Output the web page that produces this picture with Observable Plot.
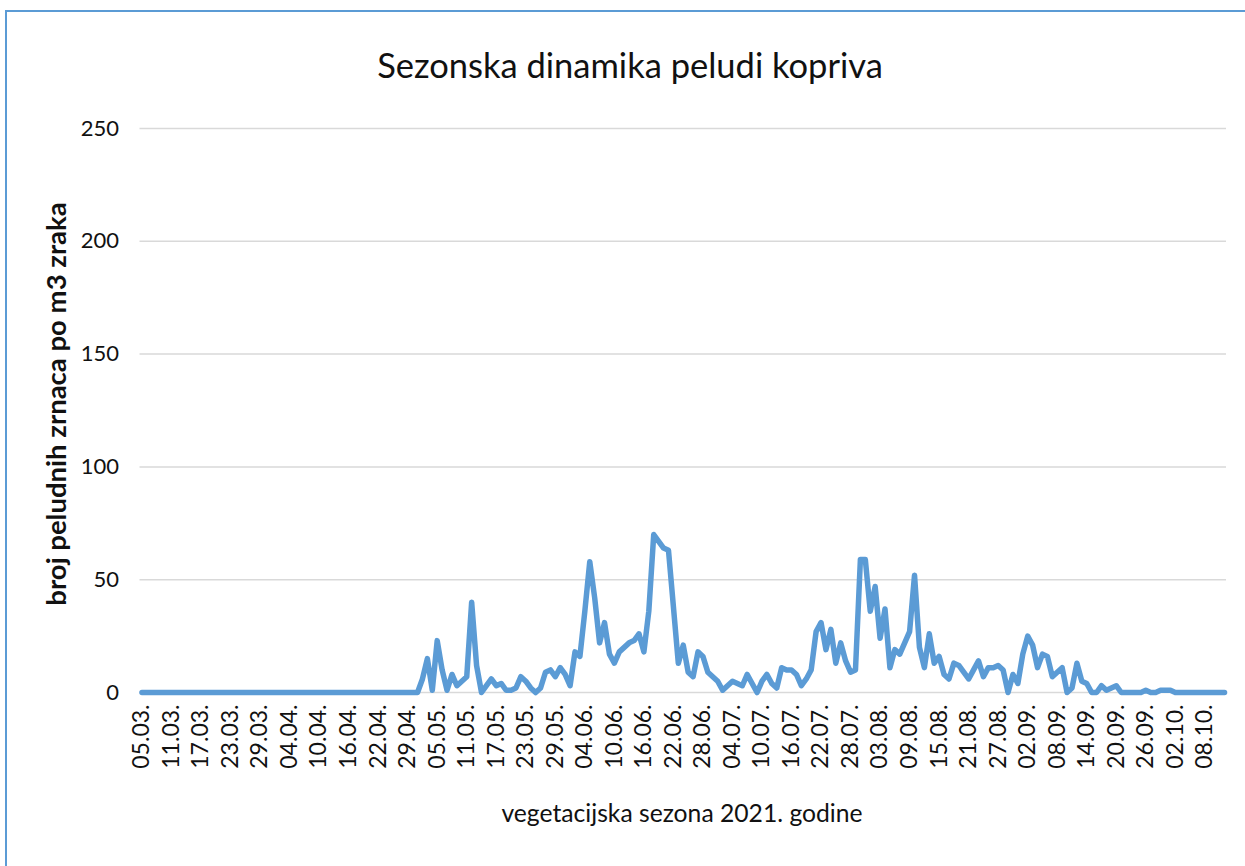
<!DOCTYPE html>
<html><head><meta charset="utf-8">
<script src="https://cdn.jsdelivr.net/npm/d3@7"></script>
<script src="https://cdn.jsdelivr.net/npm/@observablehq/plot@0.6"></script>
<style>
html,body{margin:0;padding:0;background:#fff;overflow:hidden;width:1245px;height:866px;}
#wrap{position:relative;width:1245px;height:866px;overflow:hidden;}
#frame{position:absolute;left:5px;top:10px;width:1300px;height:900px;border:2px solid #5b9bd5;box-sizing:border-box;}
#chart{position:absolute;left:0;top:0;}
.t{position:absolute;font-family:Lato,sans-serif;white-space:nowrap;line-height:1;color:#111;}
#title{left:0;width:1260px;top:48px;text-align:center;font-size:34.5px;}
#xtitle{left:0;width:1364px;top:801px;text-align:center;font-size:24.7px;}
#ytitle{left:55px;top:404px;width:600px;height:27px;text-align:center;font-size:27.5px;font-weight:bold;transform:translate(-50%,-50%) rotate(-90deg);}
</style></head>
<body><div id="wrap"><div id="frame"></div><div id="chart"></div>
<div class="t" id="title">Sezonska dinamika peludi kopriva</div>
<div class="t" id="xtitle">vegetacijska sezona 2021. godine</div>
<div class="t" id="ytitle">broj peludnih zrnaca po m3 zraka</div>
</div>
<script>
const tickLabels = ["05.03.","11.03.","17.03.","23.03.","29.03.","04.04.","10.04.","16.04.","22.04.","29.04.","05.05.","11.05.","17.05.","23.05.","29.05.","04.06.","10.06.","16.06.","22.06.","28.06.","04.07.","10.07.","16.07.","22.07.","28.07.","03.08.","09.08.","15.08.","21.08.","27.08.","02.09.","08.09.","14.09.","20.09.","26.09.","02.10.","08.10."];
const yTicks = [0, 50, 100, 150, 200, 250];
const pollen = [
0,0,0,0,0,0,0,0,0,0, 0,0,0,0,0,0,0,0,0,0, 0,0,0,0,0,0,0,0,0,0,
0,0,0,0,0,0,0,0,0,0, 0,0,0,0,0,0,0,0,0,0, 0,0,0,0,0,0,0,
6,15,1,23,10,1,8,3,5,7,40,12,0,3,6,3,4,1,1,2,7,5,2,0,2,
9,10,7,11,8,3,18,16,36,58,42,22,31,17,13,18,20,22,23,26,18,36,70,67,64,63,38,13,21,9,
7,18,16,9,7,5,1,3,5,4,3,8,4,0,5,8,4,2,11,10,10,8,3,6,10,27,31,19,28,13,
22,14,9,10,59,59,36,47,24,37,11,19,17,22,27,52,20,11,26,13,16,8,6,13,12,9,6,10,14,7,
11,11,12,10,0,8,4,17,25,21,11,17,16,7,9,11,0,2,13,5,4,0,0,3,1,2,3,0,0,0,
0,0,1,0,0,1,1,1,0,0,0,0,0,0,0,0,0,0,0
];
const rows = pollen.map((v, i) => ({i, v}));
const tickIdx = tickLabels.map((_, k) => k * 6);

const plot = Plot.plot({
  width: 1245, height: 866,
  marginTop: 128, marginBottom: 174, marginLeft: 139.5, marginRight: 19,
  style: {fontFamily: "Lato, sans-serif", color: "#111", background: "transparent"},
  x: {domain: [-0.4, pollen.length - 1 + 0.4]},
  y: {domain: [0, 250]},
  marks: [
    Plot.gridY(yTicks, {stroke: "#d9d9d9", strokeOpacity: 1, strokeWidth: 1.5}),
    Plot.axisY(yTicks, {tickSize: 0, tickPadding: 21, fontSize: 22, label: null}),
    Plot.axisX(tickIdx, {tickSize: 0, tickPadding: 12, fontSize: 23, tickRotate: -90, tickFormat: d => tickLabels[d / 6], label: null}),
    Plot.lineY(rows, {x: "i", y: "v", stroke: "#5b9bd5", strokeWidth: 5.5, strokeLinejoin: "round", strokeLinecap: "round"})
  ]
});
document.getElementById("chart").appendChild(plot);
</script>
</body></html>
